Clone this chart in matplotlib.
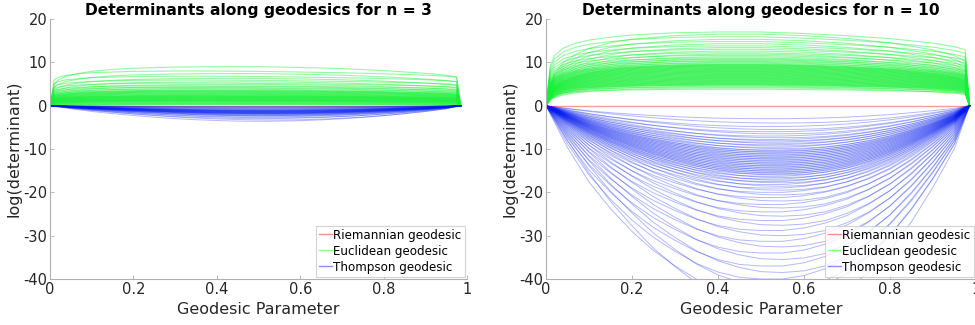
import numpy as np
import matplotlib
matplotlib.use('Agg')
import matplotlib.pyplot as plt
from matplotlib.lines import Line2D

# geodesic parameter samples used for the tabulated curve shapes
t_green = [0, 0.01, 0.02, 0.04, 0.07, 0.1, 0.15, 0.2, 0.3, 0.4, 0.5, 0.6, 0.7, 0.8, 0.9, 0.95, 0.975, 0.985]
t_blue = [0, 0.05, 0.1, 0.15, 0.2, 0.25, 0.3, 0.35, 0.4, 0.45, 0.5, 0.55, 0.6, 0.65, 0.7, 0.75, 0.8, 0.85, 0.9, 0.95, 0.985]

# normalised shapes (fraction of the curve's extreme value)
green_shape_n3 = [[0, 0.75, 0.82, 0.88, 0.92, 0.95, 0.97, 0.99, 1.0, 1.0, 0.99, 0.97, 0.95, 0.92, 0.88, 0.85, 0.82, 0],
                  [0, 0.55, 0.66, 0.76, 0.83, 0.88, 0.93, 0.96, 0.99, 1.0, 1.0, 0.98, 0.95, 0.9, 0.83, 0.78, 0.74, 0]]
green_shape_n10 = [[0, 0.55, 0.68, 0.78, 0.85, 0.89, 0.93, 0.96, 0.99, 1.0, 1.0, 0.98, 0.95, 0.91, 0.85, 0.8, 0.76, 0],
                   [0, 0.3, 0.45, 0.6, 0.72, 0.8, 0.88, 0.93, 0.98, 1.0, 1.0, 0.98, 0.94, 0.88, 0.78, 0.7, 0.62, 0]]
blue_shape_n3 = [[0, 0.2, 0.37, 0.51, 0.63, 0.74, 0.83, 0.9, 0.95, 0.99, 1.0, 0.99, 0.96, 0.91, 0.84, 0.75, 0.64, 0.51, 0.36, 0.19, 0],
                 [0, 0.16, 0.31, 0.45, 0.58, 0.69, 0.79, 0.87, 0.93, 0.97, 0.995, 1.0, 0.98, 0.94, 0.88, 0.8, 0.69, 0.56, 0.41, 0.22, 0]]
blue_shape_n10 = [[0, 0.22, 0.4, 0.54, 0.66, 0.76, 0.84, 0.91, 0.96, 0.99, 1.0, 1.0, 0.98, 0.94, 0.88, 0.79, 0.68, 0.54, 0.38, 0.2, 0],
                  [0, 0.17, 0.33, 0.47, 0.59, 0.7, 0.79, 0.87, 0.93, 0.97, 0.995, 1.0, 0.99, 0.96, 0.9, 0.82, 0.71, 0.57, 0.4, 0.21, 0]]

# extreme value of every curve
green_peak_n3 = [0.2, 0.3, 0.4, 0.5, 0.6, 0.7, 0.8, 0.9, 1.0, 1.05, 1.1, 1.2, 1.25, 1.3, 1.4, 1.45, 1.5,
                 1.6, 1.65, 1.7, 1.8, 1.85, 1.9, 2.0, 2.05, 2.1, 2.2, 2.25, 2.3, 2.4, 2.5, 2.6, 2.7, 2.8,
                 2.9, 3.0, 3.1, 3.2, 3.3, 3.4, 3.5, 3.6, 3.8, 4.0, 4.2, 4.4, 4.6, 4.9, 5.2, 5.5, 5.9,
                 6.3, 6.8, 7.4, 8.0, 9.0]
blue_peak_n3 = [-0.2, -0.3, -0.4, -0.5, -0.6, -0.7, -0.8, -0.9, -1.0, -1.05, -1.1, -1.15, -1.2, -1.25,
                -1.3, -1.35, -1.4, -1.45, -1.5, -1.55, -1.6, -1.65, -1.7, -1.75, -1.8, -1.85, -1.9,
                -2.0, -2.1, -2.2, -2.3, -2.4, -2.6, -2.8, -3.0, -3.3, -3.6]
green_peak_n10 = [3.8, 4.1, 4.3, 4.5, 4.7, 4.8, 4.9, 5.0, 5.1, 5.2, 5.3, 5.4, 5.5, 5.6, 5.7, 5.8, 5.9,
                  6.0, 6.1, 6.2, 6.3, 6.4, 6.5, 6.6, 6.7, 6.8, 6.9, 7.0, 7.1, 7.2, 7.3, 7.4, 7.5, 7.6,
                  7.7, 7.8, 7.9, 8.0, 8.1, 8.2, 8.3, 8.4, 8.5, 8.6, 8.7, 8.8, 8.9, 9.0, 9.1, 9.2, 9.3,
                  9.4, 9.5, 9.6, 9.8, 10.0, 10.2, 10.4, 10.6, 10.8, 11.0, 11.3, 11.6, 11.9, 12.2, 12.6,
                  13.0, 13.4, 13.8, 14.3, 14.8, 15.3, 15.9, 16.5, 17.0]
blue_peak_n10 = [-3.0, -4.0, -4.8, -5.5, -6.0, -6.5, -7.0, -7.4, -7.8, -8.1, -8.4, -8.7, -9.0, -9.3,
                 -9.6, -9.9, -10.2, -10.4, -10.6, -10.8, -11.0, -11.2, -11.4, -11.6, -11.8, -12.0,
                 -12.2, -12.4, -12.6, -12.8, -13.0, -13.2, -13.4, -13.6, -13.8, -14.0, -14.2, -14.4,
                 -14.6, -14.8, -15.0, -15.2, -15.4, -15.6, -15.8, -16.0, -16.3, -16.6, -16.9, -17.2,
                 -17.5, -17.8, -18.2, -18.6, -19.0, -19.5, -20.0, -20.6, -21.2, -22.0, -22.8, -23.6,
                 -24.5, -25.5, -26.5, -27.6, -28.8, -30.0, -31.3, -32.6, -34.0, -35.5, -37.0, -38.5,
                 -40.0, -42.0, -44.0, -47.0]

titles = ['Determinants along geodesics for n = 3', 'Determinants along geodesics for n = 10']
labels = ['Riemannian geodesic', 'Euclidean geodesic', 'Thompson geodesic']
xticks = [0, 0.2, 0.4, 0.6, 0.8, 1]
yticks = [-40, -30, -20, -10, 0, 10, 20]

panels = [(green_shape_n3, green_peak_n3, blue_shape_n3, blue_peak_n3),
          (green_shape_n10, green_peak_n10, blue_shape_n10, blue_peak_n10)]

fig = plt.figure(figsize=(9.75, 3.25), dpi=100)
axes = [fig.add_axes([0.0513, 0.1415, 0.4277, 0.80]),
        fig.add_axes([0.560, 0.1415, 0.441, 0.80])]

for ax, title, (gs, gp, bs, bp) in zip(axes, titles, panels):
    ax.plot([0, 0.985], [0, 0], color='red', alpha=0.4, lw=1.0)
    for i, p in enumerate(gp):
        ax.plot(t_green, p * np.array(gs[i % 2]), color='#14f034', alpha=0.45, lw=0.8)
    for i, p in enumerate(bp):
        ax.plot(t_blue, p * np.array(bs[i % 2]), color='#0018f0', alpha=0.3, lw=0.7)

    ax.set_xlim(0, 1)
    ax.set_ylim(-40, 20)
    ax.set_xticks(xticks)
    ax.set_xticklabels(['0', '0.2', '0.4', '0.6', '0.8', '1'])
    ax.set_yticks(yticks)
    ax.set_yticklabels([str(v) for v in yticks])
    ax.tick_params(direction='in', length=3, width=0.6, colors='#b0b0b0',
                   labelcolor='#262626', labelsize=10.5, pad=2)
    ax.spines['top'].set_visible(False)
    ax.spines['right'].set_visible(False)
    ax.spines['left'].set_color('#b0b0b0')
    ax.spines['bottom'].set_color('#b0b0b0')
    ax.set_title(title, fontsize=11.2, fontweight='bold', pad=3)
    ax.set_xlabel('Geodesic Parameter', fontsize=11.5, color='#262626', labelpad=4)
    ax.set_ylabel('log(determinant)', fontsize=11.5, color='#262626', labelpad=1)

    handles = [Line2D([], [], color='red', alpha=0.45, lw=1),
               Line2D([], [], color='#00ff00', alpha=0.45, lw=1),
               Line2D([], [], color='#0000ff', alpha=0.45, lw=1)]
    leg = ax.legend(handles, labels, loc='lower right', fontsize=8.6, frameon=True, fancybox=False,
                    handlelength=1.1, handletextpad=0.1, borderpad=0.25, labelspacing=0.25,
                    borderaxespad=0.2)
    leg.get_frame().set_edgecolor('#c8c8c8')
    leg.get_frame().set_linewidth(0.8)

fig.savefig('out.png', dpi=100)
